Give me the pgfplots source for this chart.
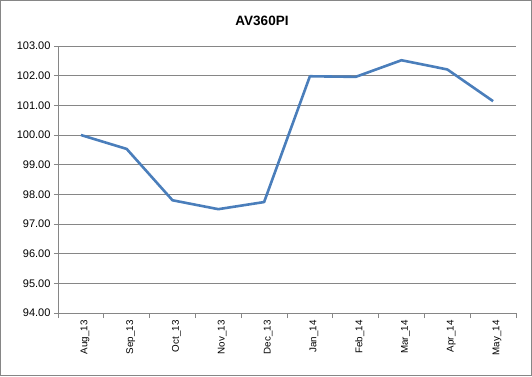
\documentclass[border=0pt]{standalone}
\usepackage{pgfplots}
\pgfplotsset{compat=1.18}
\usepackage{fontspec}
\setmainfont{Liberation Sans}
\definecolor{linecol}{RGB}{74,126,187}
\definecolor{gridcol}{RGB}{134,134,134}
\definecolor{framecol}{RGB}{134,134,134}
\begin{document}
\begin{tikzpicture}[x=1pt,y=1pt]
\path[use as bounding box] (0,0) rectangle (532,376);
\draw[framecol, line width=1pt] (0.5,0.5) rectangle (531.5,375.5);
\node[font=\bfseries\fontsize{13.5}{15}\selectfont] at (262,355) {AV360PI};
\begin{axis}[
  at={(58pt,63pt)}, anchor=south west,
  scale only axis, width=458pt, height=267pt,
  xmin=-0.5, xmax=9.5, ymin=94, ymax=103,
  axis lines*=left,
  axis line style={gridcol, line width=0.8pt},
  ytick={94,95,...,103},
  ymajorgrids, grid style={gridcol, line width=0.8pt},
  tick align=outside,
  major tick length=4pt,
  tick style={gridcol, line width=0.8pt},
  xtick={0,...,9},
  xticklabels={Aug\_13,Sep\_13,Oct\_13,Nov\_13,Dec\_13,Jan\_14,Feb\_14,Mar\_14,Apr\_14,May\_14},
  x tick style={draw=none},
  minor xtick={-0.5,0.5,...,9.5},
  minor x tick style={draw=gridcol},
  minor tick length=5pt,
  x tick label style={rotate=90, anchor=east, font=\fontsize{9.8}{11}\selectfont, yshift=-4pt},
  y tick label style={font=\fontsize{11}{12}\selectfont},
  /pgf/number format/assume math mode=true,
  yticklabel={\pgfmathprintnumber[fixed, fixed zerofill, precision=2]{\tick}},
]
\addplot[linecol, line width=2.6pt, line join=round, mark=none] coordinates {
(0,100.00) (1,99.53) (2,97.80) (3,97.50) (4,97.74) (5,101.98) (6,101.96) (7,102.52) (8,102.21) (9,101.14)
};
\end{axis}
\end{tikzpicture}
\end{document}
